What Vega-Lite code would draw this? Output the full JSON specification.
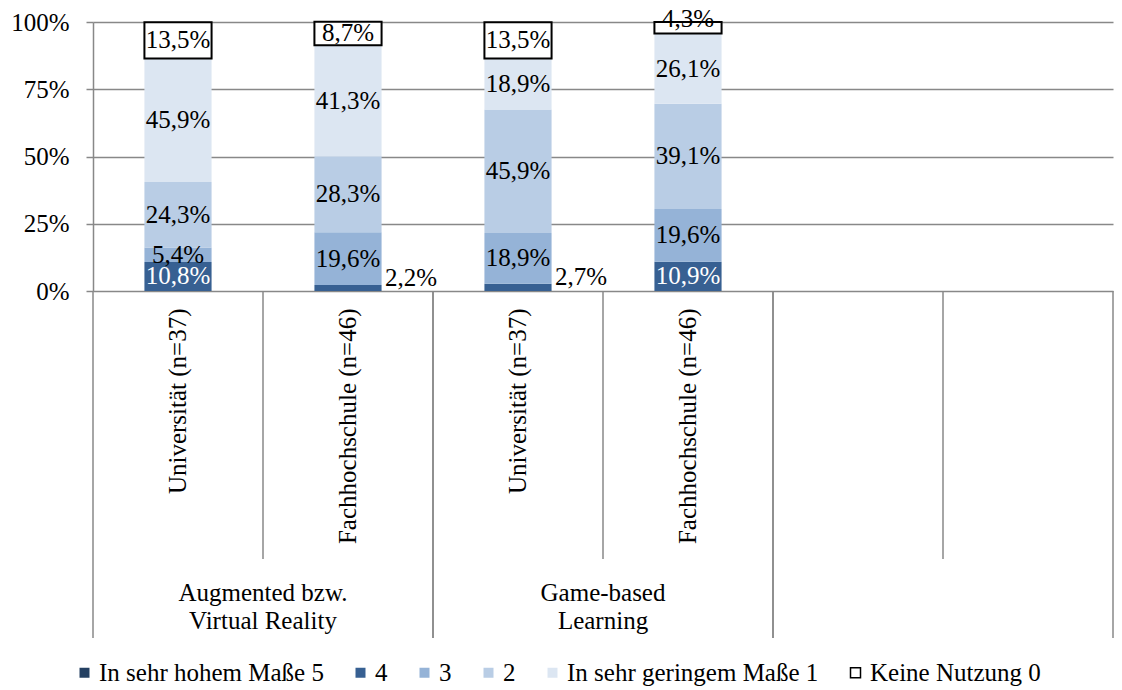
{
  "$schema": "https://vega.github.io/schema/vega-lite/v6.json",
  "width": 1020,
  "height": 269,
  "autosize": "none",
  "padding": {"left": 93, "top": 22, "right": 9, "bottom": 399},
  "config": {
    "view": {"stroke": null},
    "font": "Liberation Serif",
    "locale": {"number": {"decimal": ",", "thousands": ".", "grouping": [3], "currency": ["", " €"]}}
  },
  "datasets": {
    "bars": [
      {"slot": "AR|Universität (n=37)", "cat": "In sehr hohem Maße 5", "ord": 0, "value": 0},
      {"slot": "AR|Universität (n=37)", "cat": "4", "ord": 1, "value": 0.108},
      {"slot": "AR|Universität (n=37)", "cat": "3", "ord": 2, "value": 0.054},
      {"slot": "AR|Universität (n=37)", "cat": "2", "ord": 3, "value": 0.243},
      {"slot": "AR|Universität (n=37)", "cat": "In sehr geringem Maße 1", "ord": 4, "value": 0.459},
      {"slot": "AR|Universität (n=37)", "cat": "Keine Nutzung 0", "ord": 5, "value": 0.135},
      {"slot": "AR|Fachhochschule (n=46)", "cat": "In sehr hohem Maße 5", "ord": 0, "value": 0},
      {"slot": "AR|Fachhochschule (n=46)", "cat": "4", "ord": 1, "value": 0.022},
      {"slot": "AR|Fachhochschule (n=46)", "cat": "3", "ord": 2, "value": 0.196},
      {"slot": "AR|Fachhochschule (n=46)", "cat": "2", "ord": 3, "value": 0.283},
      {"slot": "AR|Fachhochschule (n=46)", "cat": "In sehr geringem Maße 1", "ord": 4, "value": 0.413},
      {"slot": "AR|Fachhochschule (n=46)", "cat": "Keine Nutzung 0", "ord": 5, "value": 0.087},
      {"slot": "GBL|Universität (n=37)", "cat": "In sehr hohem Maße 5", "ord": 0, "value": 0},
      {"slot": "GBL|Universität (n=37)", "cat": "4", "ord": 1, "value": 0.027},
      {"slot": "GBL|Universität (n=37)", "cat": "3", "ord": 2, "value": 0.189},
      {"slot": "GBL|Universität (n=37)", "cat": "2", "ord": 3, "value": 0.459},
      {"slot": "GBL|Universität (n=37)", "cat": "In sehr geringem Maße 1", "ord": 4, "value": 0.189},
      {"slot": "GBL|Universität (n=37)", "cat": "Keine Nutzung 0", "ord": 5, "value": 0.135},
      {"slot": "GBL|Fachhochschule (n=46)", "cat": "In sehr hohem Maße 5", "ord": 0, "value": 0},
      {"slot": "GBL|Fachhochschule (n=46)", "cat": "4", "ord": 1, "value": 0.109},
      {"slot": "GBL|Fachhochschule (n=46)", "cat": "3", "ord": 2, "value": 0.196},
      {"slot": "GBL|Fachhochschule (n=46)", "cat": "2", "ord": 3, "value": 0.391},
      {"slot": "GBL|Fachhochschule (n=46)", "cat": "In sehr geringem Maße 1", "ord": 4, "value": 0.261},
      {"slot": "GBL|Fachhochschule (n=46)", "cat": "Keine Nutzung 0", "ord": 5, "value": 0.043}
    ],
    "groups": [
      {"first": "AR|Universität (n=37)", "second": "AR|Fachhochschule (n=46)", "group": "Augmented bzw.\nVirtual Reality"},
      {"first": "GBL|Universität (n=37)", "second": "GBL|Fachhochschule (n=46)", "group": "Game-based\nLearning"},
      {"first": "E1|", "second": "E2|", "group": ""}
    ]
  },
  "layer": [
    {
      "data": {"name": "bars"},
      "transform": [
        {"stack": "value", "groupby": ["slot"], "sort": [{"field": "ord", "order": "ascending"}], "as": ["v0", "v1"]}
      ],
      "layer": [
        {
          "mark": {"type": "bar", "width": {"band": 0.395}, "strokeWidth": 2},
          "encoding": {
            "x": {
              "field": "slot", "type": "nominal",
              "scale": {"type": "band", "domain": ["AR|Universität (n=37)", "AR|Fachhochschule (n=46)", "GBL|Universität (n=37)", "GBL|Fachhochschule (n=46)", "E1|", "E2|"], "paddingInner": 0, "paddingOuter": 0},
              "axis": {"title": null, "labelAngle": -90, "labelExpr": "split(datum.value, '|')[1]", "ticks": false, "domain": false, "grid": false, "labelFontSize": 25, "labelFont": "Liberation Serif", "labelColor": "black", "labelPadding": 17, "labelLimit": 400, "labelAlign": "right", "labelBaseline": "middle"}
            },
            "y": {
              "field": "v0", "type": "quantitative",
              "scale": {"domain": [0, 1], "nice": false, "zero": false},
              "axis": {"title": null, "values": [0, 0.25, 0.5, 0.75, 1], "format": ".0%", "grid": true, "gridColor": "#888888", "gridWidth": 1.5, "domainColor": "#888888", "domainWidth": 1.5, "tickColor": "#888888", "tickWidth": 1.5, "tickSize": 7, "labelFontSize": 25, "labelFont": "Liberation Serif", "labelColor": "black", "labelPadding": 17}
            },
            "y2": {"field": "v1"},
            "fill": {
              "field": "cat", "type": "nominal",
              "scale": {"domain": ["In sehr hohem Maße 5", "4", "3", "2", "In sehr geringem Maße 1", "Keine Nutzung 0"], "range": ["#244062", "#376092", "#95B3D7", "#B9CDE5", "#DCE6F2", "#FFFFFF"]},
              "legend": {"title": null, "orient": "none", "legendX": -21, "legendY": 638, "direction": "horizontal", "columns": 6, "columnPadding": 24, "symbolType": "square", "symbolSize": 100, "symbolStrokeWidth": 1.5, "labelFontSize": 25, "labelFont": "Liberation Serif", "labelColor": "black", "labelLimit": 400, "labelOffset": 2, "padding": 0}
            },
            "stroke": {
              "field": "cat", "type": "nominal",
              "scale": {"domain": ["In sehr hohem Maße 5", "4", "3", "2", "In sehr geringem Maße 1", "Keine Nutzung 0"], "range": ["transparent", "transparent", "transparent", "transparent", "transparent", "#000000"]},
              "legend": {"title": null, "orient": "none", "legendX": -21, "legendY": 638, "direction": "horizontal", "columns": 6, "columnPadding": 24, "symbolType": "square", "symbolSize": 100, "symbolStrokeWidth": 1.5, "labelFontSize": 25, "labelFont": "Liberation Serif", "labelColor": "black", "labelLimit": 400, "labelOffset": 2, "padding": 0}
            }
          }
        },
        {
          "transform": [
            {"fold": ["v0", "v1"], "as": ["edge", "pos"]},
            {"aggregate": [{"op": "mean", "field": "pos", "as": "mid"}], "groupby": ["slot", "cat", "value"]},
            {"filter": "datum.value > 0"}
          ],
          "layer": [
            {
              "transform": [{"filter": "datum.value >= 0.05"}],
              "mark": {"type": "text", "fontSize": 25, "font": "Liberation Serif", "baseline": "middle", "align": "center"},
              "encoding": {
                "x": {"field": "slot", "type": "nominal", "scale": {"type": "band", "domain": ["AR|Universität (n=37)", "AR|Fachhochschule (n=46)", "GBL|Universität (n=37)", "GBL|Fachhochschule (n=46)", "E1|", "E2|"], "paddingInner": 0, "paddingOuter": 0},
                  "axis": {"title": null, "labelAngle": -90, "labelExpr": "split(datum.value, '|')[1]", "ticks": false, "domain": false, "grid": false, "labelFontSize": 25, "labelFont": "Liberation Serif", "labelColor": "black", "labelPadding": 17, "labelLimit": 400, "labelAlign": "right", "labelBaseline": "middle"}},
                "y": {"field": "mid", "type": "quantitative", "scale": {"domain": [0, 1], "nice": false, "zero": false},
                  "axis": {"title": null, "values": [0, 0.25, 0.5, 0.75, 1], "format": ".0%", "grid": true, "gridColor": "#888888", "gridWidth": 1.5, "domainColor": "#888888", "domainWidth": 1.5, "tickColor": "#888888", "tickWidth": 1.5, "tickSize": 7, "labelFontSize": 25, "labelFont": "Liberation Serif", "labelColor": "black", "labelPadding": 17}},
                "text": {"field": "value", "type": "quantitative", "format": ".1%"},
                "color": {"condition": {"test": "datum.cat === '4'", "value": "#FFFFFF"}, "value": "#000000"}
              }
            },
            {
              "transform": [{"filter": "datum.value < 0.05 && datum.cat === '4'"}],
              "mark": {"type": "text", "fontSize": 25, "font": "Liberation Serif", "baseline": "middle", "align": "left", "dx": 37, "dy": -10, "color": "#000000"},
              "encoding": {
                "x": {"field": "slot", "type": "nominal", "scale": {"type": "band", "domain": ["AR|Universität (n=37)", "AR|Fachhochschule (n=46)", "GBL|Universität (n=37)", "GBL|Fachhochschule (n=46)", "E1|", "E2|"], "paddingInner": 0, "paddingOuter": 0},
                  "axis": {"title": null, "labelAngle": -90, "labelExpr": "split(datum.value, '|')[1]", "ticks": false, "domain": false, "grid": false, "labelFontSize": 25, "labelFont": "Liberation Serif", "labelColor": "black", "labelPadding": 17, "labelLimit": 400, "labelAlign": "right", "labelBaseline": "middle"}},
                "y": {"field": "mid", "type": "quantitative", "scale": {"domain": [0, 1], "nice": false, "zero": false},
                  "axis": {"title": null, "values": [0, 0.25, 0.5, 0.75, 1], "format": ".0%", "grid": true, "gridColor": "#888888", "gridWidth": 1.5, "domainColor": "#888888", "domainWidth": 1.5, "tickColor": "#888888", "tickWidth": 1.5, "tickSize": 7, "labelFontSize": 25, "labelFont": "Liberation Serif", "labelColor": "black", "labelPadding": 17}},
                "text": {"field": "value", "type": "quantitative", "format": ".1%"}
              }
            },
            {
              "transform": [{"filter": "datum.value < 0.05 && datum.cat === 'Keine Nutzung 0'"}],
              "mark": {"type": "text", "fontSize": 25, "font": "Liberation Serif", "baseline": "middle", "align": "center", "dy": -9, "color": "#000000"},
              "encoding": {
                "x": {"field": "slot", "type": "nominal", "scale": {"type": "band", "domain": ["AR|Universität (n=37)", "AR|Fachhochschule (n=46)", "GBL|Universität (n=37)", "GBL|Fachhochschule (n=46)", "E1|", "E2|"], "paddingInner": 0, "paddingOuter": 0},
                  "axis": {"title": null, "labelAngle": -90, "labelExpr": "split(datum.value, '|')[1]", "ticks": false, "domain": false, "grid": false, "labelFontSize": 25, "labelFont": "Liberation Serif", "labelColor": "black", "labelPadding": 17, "labelLimit": 400, "labelAlign": "right", "labelBaseline": "middle"}},
                "y": {"field": "mid", "type": "quantitative", "scale": {"domain": [0, 1], "nice": false, "zero": false},
                  "axis": {"title": null, "values": [0, 0.25, 0.5, 0.75, 1], "format": ".0%", "grid": true, "gridColor": "#888888", "gridWidth": 1.5, "domainColor": "#888888", "domainWidth": 1.5, "tickColor": "#888888", "tickWidth": 1.5, "tickSize": 7, "labelFontSize": 25, "labelFont": "Liberation Serif", "labelColor": "black", "labelPadding": 17}},
                "text": {"field": "value", "type": "quantitative", "format": ".1%"}
              }
            }
          ]
        }
      ]
    },
    {
      "data": {"name": "groups"},
      "layer": [
        {
          "mark": {"type": "rule", "color": "#888888", "strokeWidth": 1.5},
          "encoding": {
            "x": {"field": "first", "type": "nominal", "bandPosition": 0, "scale": {"type": "band", "domain": ["AR|Universität (n=37)", "AR|Fachhochschule (n=46)", "GBL|Universität (n=37)", "GBL|Fachhochschule (n=46)", "E1|", "E2|"], "paddingInner": 0, "paddingOuter": 0},
              "axis": {"title": null, "labelAngle": -90, "labelExpr": "split(datum.value, '|')[1]", "ticks": false, "domain": false, "grid": false, "labelFontSize": 25, "labelFont": "Liberation Serif", "labelColor": "black", "labelPadding": 17, "labelLimit": 400, "labelAlign": "right", "labelBaseline": "middle"}},
            "y": {"datum": 0, "type": "quantitative", "scale": {"domain": [0, 1], "nice": false, "zero": false},
              "axis": {"title": null, "values": [0, 0.25, 0.5, 0.75, 1], "format": ".0%", "grid": true, "gridColor": "#888888", "gridWidth": 1.5, "domainColor": "#888888", "domainWidth": 1.5, "tickColor": "#888888", "tickWidth": 1.5, "tickSize": 7, "labelFontSize": 25, "labelFont": "Liberation Serif", "labelColor": "black", "labelPadding": 17}},
            "y2": {"datum": -1.29}
          }
        },
        {
          "mark": {"type": "rule", "color": "#888888", "strokeWidth": 1.5},
          "encoding": {
            "x": {"field": "second", "type": "nominal", "bandPosition": 1, "scale": {"type": "band", "domain": ["AR|Universität (n=37)", "AR|Fachhochschule (n=46)", "GBL|Universität (n=37)", "GBL|Fachhochschule (n=46)", "E1|", "E2|"], "paddingInner": 0, "paddingOuter": 0},
              "axis": {"title": null, "labelAngle": -90, "labelExpr": "split(datum.value, '|')[1]", "ticks": false, "domain": false, "grid": false, "labelFontSize": 25, "labelFont": "Liberation Serif", "labelColor": "black", "labelPadding": 17, "labelLimit": 400, "labelAlign": "right", "labelBaseline": "middle"}},
            "y": {"datum": 0, "type": "quantitative", "scale": {"domain": [0, 1], "nice": false, "zero": false},
              "axis": {"title": null, "values": [0, 0.25, 0.5, 0.75, 1], "format": ".0%", "grid": true, "gridColor": "#888888", "gridWidth": 1.5, "domainColor": "#888888", "domainWidth": 1.5, "tickColor": "#888888", "tickWidth": 1.5, "tickSize": 7, "labelFontSize": 25, "labelFont": "Liberation Serif", "labelColor": "black", "labelPadding": 17}},
            "y2": {"datum": -1.29}
          }
        },
        {
          "mark": {"type": "rule", "color": "#888888", "strokeWidth": 1.5},
          "encoding": {
            "x": {"field": "second", "type": "nominal", "bandPosition": 0, "scale": {"type": "band", "domain": ["AR|Universität (n=37)", "AR|Fachhochschule (n=46)", "GBL|Universität (n=37)", "GBL|Fachhochschule (n=46)", "E1|", "E2|"], "paddingInner": 0, "paddingOuter": 0},
              "axis": {"title": null, "labelAngle": -90, "labelExpr": "split(datum.value, '|')[1]", "ticks": false, "domain": false, "grid": false, "labelFontSize": 25, "labelFont": "Liberation Serif", "labelColor": "black", "labelPadding": 17, "labelLimit": 400, "labelAlign": "right", "labelBaseline": "middle"}},
            "y": {"datum": 0, "type": "quantitative", "scale": {"domain": [0, 1], "nice": false, "zero": false},
              "axis": {"title": null, "values": [0, 0.25, 0.5, 0.75, 1], "format": ".0%", "grid": true, "gridColor": "#888888", "gridWidth": 1.5, "domainColor": "#888888", "domainWidth": 1.5, "tickColor": "#888888", "tickWidth": 1.5, "tickSize": 7, "labelFontSize": 25, "labelFont": "Liberation Serif", "labelColor": "black", "labelPadding": 17}},
            "y2": {"datum": -0.996}
          }
        },
        {
          "mark": {"type": "text", "fontSize": 25, "font": "Liberation Serif", "baseline": "top", "align": "center", "lineBreak": "\n", "lineHeight": 28, "color": "#000000"},
          "encoding": {
            "x": {"field": "second", "type": "nominal", "bandPosition": 0, "scale": {"type": "band", "domain": ["AR|Universität (n=37)", "AR|Fachhochschule (n=46)", "GBL|Universität (n=37)", "GBL|Fachhochschule (n=46)", "E1|", "E2|"], "paddingInner": 0, "paddingOuter": 0},
              "axis": {"title": null, "labelAngle": -90, "labelExpr": "split(datum.value, '|')[1]", "ticks": false, "domain": false, "grid": false, "labelFontSize": 25, "labelFont": "Liberation Serif", "labelColor": "black", "labelPadding": 17, "labelLimit": 400, "labelAlign": "right", "labelBaseline": "middle"}},
            "y": {"datum": -1.078, "type": "quantitative", "scale": {"domain": [0, 1], "nice": false, "zero": false},
              "axis": {"title": null, "values": [0, 0.25, 0.5, 0.75, 1], "format": ".0%", "grid": true, "gridColor": "#888888", "gridWidth": 1.5, "domainColor": "#888888", "domainWidth": 1.5, "tickColor": "#888888", "tickWidth": 1.5, "tickSize": 7, "labelFontSize": 25, "labelFont": "Liberation Serif", "labelColor": "black", "labelPadding": 17}},
            "text": {"field": "group", "type": "nominal"}
          }
        }
      ]
    }
  ]
}
